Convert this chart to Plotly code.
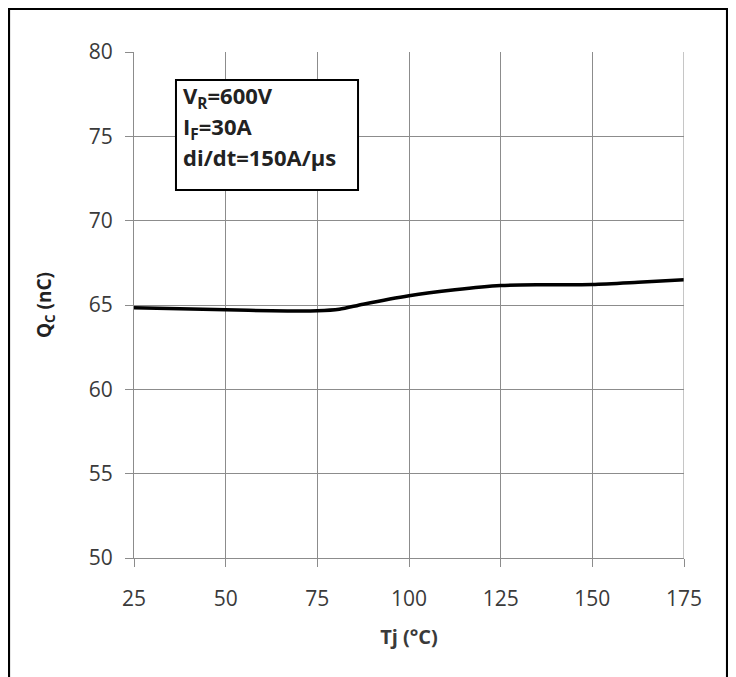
import plotly.graph_objects as go

tj = [25, 37.5, 50, 62.5, 75, 81, 87.5, 100, 112.5, 125, 137.5, 150, 162.5, 175]
qc = [64.84, 64.78, 64.72, 64.66, 64.66, 64.75, 65.05, 65.55, 65.9, 66.15, 66.2, 66.22, 66.35, 66.5]

x_ticks = [25, 50, 75, 100, 125, 150, 175]
y_ticks = [50, 55, 60, 65, 70, 75, 80]

legend_lines = ["<b>V<sub>R</sub>=600V</b>", "<b>I<sub>F</sub>=30A</b>", "<b>di/dt=150A/μs</b>"]
legend_y = [77.33, 75.5, 73.77]

FONT = "Open Sans, Liberation Sans, sans-serif"
TXT = "#3a3a3a"
GRID = "#8c8c8c"

fig = go.Figure()
fig.add_trace(go.Scatter(x=tj, y=qc, mode="lines",
                         line=dict(color="black", width=3.5, shape="spline", smoothing=0.8),
                         showlegend=False, hoverinfo="skip"))

fig.update_layout(
    width=728, height=669,
    margin=dict(l=126, r=52, t=44, b=119),
    paper_bgcolor="white", plot_bgcolor="white",
    font=dict(family=FONT, color=TXT, size=21),
    xaxis=dict(range=[25, 175], tickvals=x_ticks, ticktext=[str(v) for v in x_ticks],
               showgrid=True, gridcolor=GRID, gridwidth=1,
               showline=True, linecolor=GRID, linewidth=1,
               ticks="outside", ticklen=8, tickcolor=GRID,
               tickfont=dict(size=21, color=TXT), ticklabelstandoff=14,
               title=dict(text="<b>Tj (°C)</b>", font=dict(size=20, color=TXT), standoff=18),
               zeroline=False),
    yaxis=dict(range=[50, 80], tickvals=y_ticks, ticktext=[str(v) for v in y_ticks],
               showgrid=True, gridcolor=GRID, gridwidth=1,
               showline=True, linecolor=GRID, linewidth=1,
               ticks="outside", ticklen=8, tickcolor=GRID,
               tickfont=dict(size=21, color=TXT), ticklabelstandoff=8,
               title=dict(text="<b>Q<sub>C</sub> (nC)</b>", font=dict(size=19, color="#222222"), standoff=32),
               zeroline=False),
)

# right border gridline
fig.add_shape(type="line", xref="x", yref="paper", x0=175, x1=175, y0=0, y1=1,
              line=dict(color=GRID, width=1))

# outer frame
fig.add_shape(type="rect", xref="paper", yref="paper",
              x0=-0.228, x1=1.079, y0=-0.3, y1=1.086,
              line=dict(color="black", width=3))

# condition box
fig.add_shape(type="rect", xref="x", yref="y", x0=36.45, x1=86.1, y0=71.82, y1=78.34,
              line=dict(color="black", width=2), fillcolor="white", layer="above")
for txt, yy in zip(legend_lines, legend_y):
    fig.add_annotation(x=37.9, y=yy, xref="x", yref="y", xanchor="left", yanchor="middle",
                       align="left", showarrow=False, text=txt,
                       font=dict(family=FONT, size=22, color="#222222"))

fig.write_html("out.html")
